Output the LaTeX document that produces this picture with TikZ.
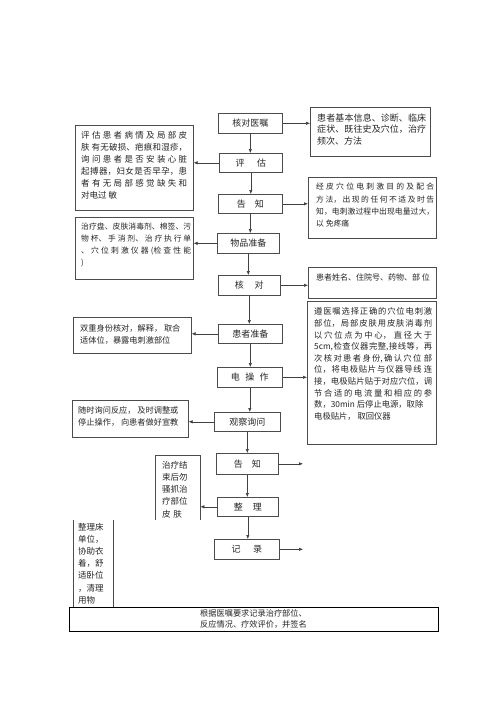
\documentclass[tikz,border=0pt]{standalone}
\usepackage{fontspec}
\setmainfont{Noto Sans CJK SC}
\usetikzlibrary{arrows.meta}
\XeTeXlinebreaklocale "zh"
\XeTeXlinebreakskip=0pt plus 2pt
\tolerance=9999 \hbadness=10000
\begin{document}
\begin{tikzpicture}[x=1pt,y=-1pt,
  bx/.style={draw=black!70, line width=0.6pt, rectangle, inner sep=0pt, anchor=north west},
  mainbox/.style={bx, font=\fontsize{9}{11}\selectfont, text=black!85},
  openbox/.style={rectangle, inner sep=0pt, anchor=north west},
  sideline/.style={draw=black!70, line width=0.6pt},
  txt/.style={anchor=north west, inner sep=0pt, text=black!85, align=justify},
  ltxt/.style={anchor=north west, inner sep=0pt, text=black!85, align=left},
  arr/.style={draw=black!75, line width=0.6pt, -{Latex[length=4pt,width=3.5pt]}}]
\useasboundingbox[fill=white] (0,0) rectangle (496,702);

% main column
\node[mainbox, minimum width=64pt, minimum height=20pt] (hdyz) at (218,113) {核对医嘱};
\node[mainbox, minimum width=63pt, minimum height=19pt] (pg) at (219,153) {评\hspace{1.4em}估};
\node[mainbox, minimum width=64pt, minimum height=19pt] (gz) at (218,194) {告\hspace{1em}知};
\node[mainbox, minimum width=62pt, minimum height=20pt] (wp) at (217,233) {物品准备};
\node[mainbox, minimum width=62pt, minimum height=20pt] (hd) at (218,275) {核\hspace{1.2em}对};
\node[mainbox, minimum width=64pt, minimum height=19pt] (hz) at (218,324) {患者准备};
\node[mainbox, minimum width=65pt, minimum height=20pt] (dcz) at (217,367) {电\hspace{0.6em}操\hspace{0.6em}作};
\node[mainbox, minimum width=66pt, minimum height=19pt] (gc) at (214,412) {观察询问};
\node[mainbox, minimum width=62pt, minimum height=21pt] (gz2) at (216,453) {告\hspace{1em}知};
\node[mainbox, minimum width=61pt, minimum height=19pt] (zl) at (217,497) {整\hspace{1.1em}理};
\node[mainbox, minimum width=65pt, minimum height=20pt] (jl) at (214,539) {记\hspace{1.4em}录};

% left boxes
\node[bx, minimum width=118pt, minimum height=85pt] (lb1) at (75,125) {};
\node[bx, minimum width=118pt, minimum height=62pt] (lb2) at (75,217) {};
\node[bx, minimum width=118pt, minimum height=36pt] (lb3) at (73,317) {};
\node[bx, minimum width=116pt, minimum height=37pt] (lb4) at (72,400) {};
\node[openbox, minimum width=45pt, minimum height=65pt] (lb5) at (155,455) {};
\draw[sideline] (lb5.south west) -- (lb5.north west) -- (lb5.north east) -- (lb5.south east);
\node[openbox, minimum width=40pt, minimum height=87pt] (lb6) at (73,520) {};
\draw[sideline] (lb6.north west) -- (lb6.south west);
\draw[sideline] (lb6.north east) -- (lb6.south east);

% right boxes
\node[bx, minimum width=120pt, minimum height=49pt] (rb1) at (310,107) {};
\node[bx, minimum width=128pt, minimum height=61pt] (rb2) at (308,177) {};
\node[bx, minimum width=128pt, minimum height=31pt] (rb3) at (308,267) {};
\node[bx, minimum width=129pt, minimum height=143pt] (rb4) at (307,301) {};

% bottom box
\node[bx, draw=black, line width=1.2pt, minimum width=369pt, minimum height=24pt] (bb) at (69,607) {};

% texts
\node[txt, text width=106pt, font=\fontsize{8.5}{12}\selectfont] (t1) at (81,131.5)
 {评估患者病情及局部皮\linebreak 肤 有无破损、疤痕和湿疹，\linebreak 询问患者是否安装心脏\linebreak 起搏器，妇女是否早孕，患\linebreak 者有无局部感觉缺失和\linebreak 对电过 敏};
\node[txt, text width=110pt, font=\fontsize{7.8}{12.2}\selectfont] (t2) at (81,222.5)
 {治疗盘、皮肤消毒剂、棉签、污\linebreak 物杯、手消剂、治疗执行单\linebreak 、穴位刺激仪器(检查性能\linebreak )};
\node[ltxt, font=\fontsize{8.2}{11.8}\selectfont] (t3) at (80,324.3)
 {双重身份核对，解释， 取合\\适体位，暴露电刺激部位};
\node[ltxt, font=\fontsize{8.2}{12.5}\selectfont] (t4) at (78,406)
 {随时询问反应， 及时调整或\\停止操作， 向患者做好宣教};
\node[ltxt, font=\fontsize{8.5}{12.3}\selectfont] (t5) at (162,460.7)
 {治疗结\\束后勿\\骚抓治\\疗部位\\皮\hspace{0.3em}肤};
\node[ltxt, font=\fontsize{8.5}{12.2}\selectfont] (t6) at (78,522.7)
 {整理床\\单位，\\协助衣\\着，舒\\适卧位\\，清理\\用物};

\node[txt, text width=109pt, font=\fontsize{9}{11.5}\selectfont] (t7) at (317,113.2)
 {患者基本信息、诊断、临床\linebreak 症状、既往史及穴位，治疗\linebreak 频次、方法};
\node[txt, text width=118pt, font=\fontsize{7.8}{12.4}\selectfont] (t8) at (316,182.8)
 {经皮穴位电刺激目的及配合\linebreak 方法，出现的任何不适及时告\linebreak 知，电刺激过程中出现电量过大，\linebreak 以 免疼痛};
\node[ltxt, font=\fontsize{8}{11}\selectfont] (t9) at (316,273.3)
 {患者姓名、住院号、药物、部 位};
\node[txt, text width=118pt, font=\fontsize{8.3}{11.6}\selectfont] (t10) at (314,307.6)
 {遵医嘱选择正确的穴位电刺激\linebreak 部位，局部皮肤用皮肤消毒剂\linebreak 以穴位点为中心， 直径大于\linebreak 5cm,检查仪器完整,接线等，再\linebreak 次核对患者身份,确认穴位 部\linebreak 位，将电极贴片与仪器导线 连\linebreak 接，电极贴片贴于对应穴位，调\linebreak 节合适的电流量和相应的参\linebreak 数，30min 后停止电源，取除\\电极贴片， 取回仪器};
\node[ltxt, font=\fontsize{8.2}{10.5}\selectfont] (t11) at (200,609.5)
 {根据医嘱要求记录治疗部位、\\反应情况、疗效评价，并签名};

% vertical arrows
\draw[arr] (hdyz.south) -- (hdyz.south |- pg.north);
\draw[arr] (pg.south) -- (pg.south |- gz.north);
\draw[arr] (gz.south) -- (gz.south |- wp.north);
\draw[arr] (wp.south) -- (wp.south |- hd.north);
\draw[arr] (hd.south) -- (hd.south |- hz.north);
\draw[arr] (hz.south) -- (hz.south |- dcz.north);
\draw[arr] (dcz.south) -- (dcz.south |- gc.north);
\draw[arr] (gc.south) -- (gc.south |- gz2.north);
\draw[arr] (gz2.south) -- (gz2.south |- zl.north);
\draw[arr] (zl.south) -- (zl.south |- jl.north);

% right arrows
\draw[arr] (hdyz.east) -- (hdyz.east -| rb1.west);
\draw[arr] (gz.east) -- (gz.east -| rb2.west);
\draw[arr] (hd.east) -- (hd.east -| rb3.west);
\draw[arr] (dcz.east) -- (dcz.east -| rb4.west);
\coordinate (e1) at (303,463);
\coordinate (e2) at (303,549);
\draw[arr] (gz2.east) -- (gz2.east -| e1);
\draw[arr] (jl.east) -- (jl.east -| e2);

% left arrows
\draw[arr] (pg.west) -- (pg.west -| lb1.east);
\draw[arr] (wp.west) -- (wp.west -| lb2.east);
\draw[arr] (hz.west) -- (hz.west -| lb3.east);
\draw[arr] (gc.west) -- (gc.west -| lb4.east);
\draw[arr] (zl.west) -- (zl.west -| lb5.east);
\end{tikzpicture}
\end{document}
